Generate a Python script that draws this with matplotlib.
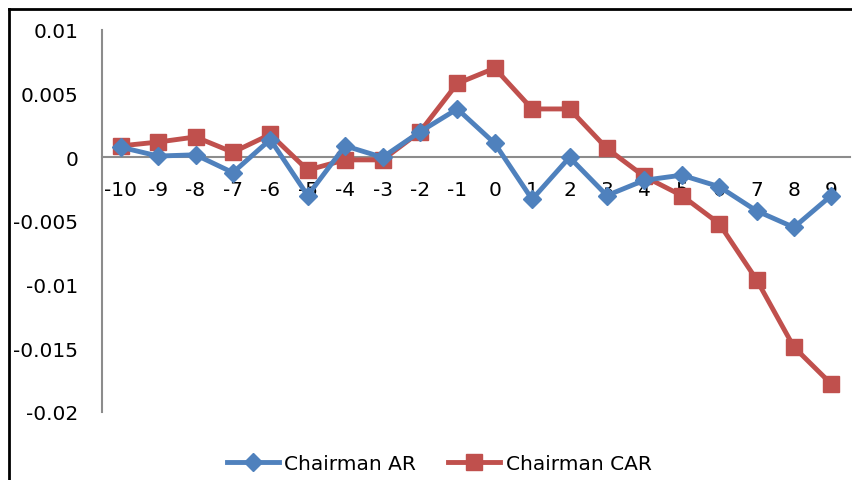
import numpy as np
import matplotlib.pyplot as plt
from matplotlib.lines import Line2D

# event window days
days = [-10, -9, -8, -7, -6, -5, -4, -3, -2, -1, 0, 1, 2, 3, 4, 5, 6, 7, 8, 9]

chairman_ar = [0.0008, 0.0001, 0.0002, -0.0012, 0.0014, -0.0030, 0.0009, 0.0000, 0.0020, 0.0038,
               0.0011, -0.0033, 0.0000, -0.0030, -0.0018, -0.0014, -0.0023, -0.0042, -0.0055, -0.0030]
chairman_car = [0.0009, 0.0012, 0.0016, 0.0004, 0.0018, -0.0010, -0.0002, -0.0002, 0.0020, 0.0058,
                0.0070, 0.0038, 0.0038, 0.0007, -0.0015, -0.0030, -0.0052, -0.0096, -0.0149, -0.0178]

y_ticks = [0.01, 0.005, 0, -0.005, -0.01, -0.015, -0.02]
y_labels = ['0.01', '0.005', '0', '-0.005', '-0.01', '-0.015', '-0.02']

blue = '#4F81BD'
red = '#C0504D'

fig = plt.figure(figsize=(8.53, 4.81), dpi=100)
ax = fig.add_axes([102 / 853, (481 - 413) / 481, 748 / 853, 382 / 481])

x = np.arange(len(days))
ax.plot(x, chairman_ar, '-D', color=blue, lw=3.5, ms=9.5, label='Chairman AR', zorder=3)
ax.plot(x, chairman_car, '-s', color=red, lw=3.5, ms=11, label='Chairman CAR', zorder=2)

ax.set_xlim(-0.5, len(days) - 0.5)
ax.set_ylim(-0.02, 0.01)

ax.set_yticks(y_ticks)
ax.set_yticklabels(y_labels)
ax.set_xticks(x)
ax.set_xticklabels([str(d) for d in days])
ax.tick_params(axis='y', length=0, pad=17, labelsize=14.5)
ax.tick_params(axis='x', length=0, pad=16, labelsize=14.5)

for s in ['top', 'right']:
    ax.spines[s].set_visible(False)
ax.spines['left'].set_color('#8c8c8c')
ax.spines['left'].set_linewidth(1.5)
ax.spines['bottom'].set_position(('data', 0))
ax.spines['bottom'].set_color('#8c8c8c')
ax.spines['bottom'].set_linewidth(1.5)
ax.spines['bottom'].set_zorder(1)

fig.legend(loc='center', bbox_to_anchor=(439 / 853, (481 - 465) / 481), ncol=2, frameon=False,
           fontsize=14.5, handlelength=2.6, columnspacing=1.6, handletextpad=0.25)

# outer frame (cropped on the right and bottom)
fig.add_artist(Line2D([9 / 853, 9 / 853], [0, 1 - 10 / 481], color='black', lw=2))
fig.add_artist(Line2D([9 / 853, 1], [1 - 10 / 481, 1 - 10 / 481], color='black', lw=2))

plt.savefig('out.png', dpi=100)
plt.close()
